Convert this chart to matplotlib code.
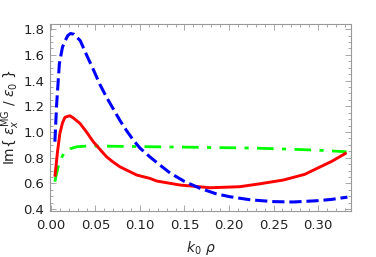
import matplotlib
matplotlib.use("Agg")
import matplotlib.pyplot as plt
from matplotlib.ticker import MultipleLocator, FormatStrFormatter

# data
x_blue = [0.0045, 0.0065, 0.0095, 0.013, 0.016, 0.019, 0.022, 0.026, 0.033, 0.04, 0.048,
          0.055, 0.0625, 0.07, 0.0775, 0.085, 0.0925, 0.1, 0.111, 0.1225, 0.134, 0.15,
          0.167, 0.185, 0.201, 0.224, 0.25, 0.272, 0.299, 0.315, 0.333]
y_blue = [0.924, 1.22, 1.53, 1.66, 1.71, 1.75, 1.766, 1.76, 1.71, 1.60, 1.48,
          1.37, 1.27, 1.18, 1.09, 1.01, 0.937, 0.875, 0.807, 0.742, 0.68, 0.615,
          0.563, 0.52, 0.496, 0.472, 0.458, 0.455, 0.465, 0.475, 0.493]

x_red = [0.0045, 0.0075, 0.0101, 0.013, 0.0157, 0.019, 0.0213, 0.025, 0.0326, 0.04,
         0.0476, 0.055, 0.0625, 0.07, 0.0775, 0.0963, 0.111, 0.119, 0.145, 0.179,
         0.212, 0.235, 0.261, 0.285, 0.299, 0.315, 0.332]
y_red = [0.652, 0.85, 0.989, 1.07, 1.113, 1.122, 1.126, 1.11, 1.067, 1.0,
         0.924, 0.865, 0.807, 0.765, 0.729, 0.665, 0.639, 0.618, 0.587, 0.566,
         0.574, 0.597, 0.626, 0.67, 0.717, 0.77, 0.838]

x_green = [0.0045, 0.0065, 0.0082, 0.012, 0.0157, 0.022, 0.029, 0.04, 0.054, 0.08,
           0.111, 0.15, 0.19, 0.224, 0.26, 0.3, 0.332]
y_green = [0.613, 0.68, 0.729, 0.80, 0.846, 0.87, 0.885, 0.89, 0.89, 0.888,
           0.885, 0.882, 0.878, 0.875, 0.868, 0.858, 0.846]

fig = plt.figure(figsize=(3.76, 2.57), dpi=100)
ax = fig.add_axes([50/376, 1-211/257, 301/376, 187/257])

ax.plot(x_green, y_green, color='#00ff00', lw=2.0, dashes=(6, 3, 1.5, 3))
ax.plot(x_red, y_red, color='#ff0000', lw=2.1, solid_capstyle='butt')
ax.plot(x_blue, y_blue, color='#0000ff', lw=2.2, dashes=(4, 1.6))

ax.set_xlim(-0.001, 0.337)
ax.set_ylim(0.385, 1.84)
ax.xaxis.set_major_locator(MultipleLocator(0.05))
ax.xaxis.set_minor_locator(MultipleLocator(0.01))
ax.yaxis.set_major_locator(MultipleLocator(0.2))
ax.yaxis.set_minor_locator(MultipleLocator(0.05))
ax.xaxis.set_major_formatter(FormatStrFormatter('%.2f'))
ax.yaxis.set_major_formatter(FormatStrFormatter('%.1f'))

for s in ax.spines.values():
    s.set_color('#999999')
    s.set_linewidth(0.8)
ax.tick_params(which='both', direction='in', top=True, right=True, color='#999999',
               width=0.6, labelsize=9.5, labelcolor='#222222')
ax.tick_params(axis='x', pad=6)
ax.tick_params(axis='y', pad=4)
ax.tick_params(which='major', length=4)
ax.tick_params(which='minor', length=2.2)

ax.set_xlabel(r'$k_0\ \rho$', fontsize=10, color='#222222', va='center')
ax.xaxis.set_label_coords(0.5, (211 - 248) / 187)
ax.set_ylabel(r'Im{ $\epsilon_x^{\rm MG}$ / $\epsilon_0$ }', fontsize=10, color='#222222', va='center')
ax.yaxis.set_label_coords((11 - 50) / 301, 0.5)

fig.savefig('out.png', dpi=100)
